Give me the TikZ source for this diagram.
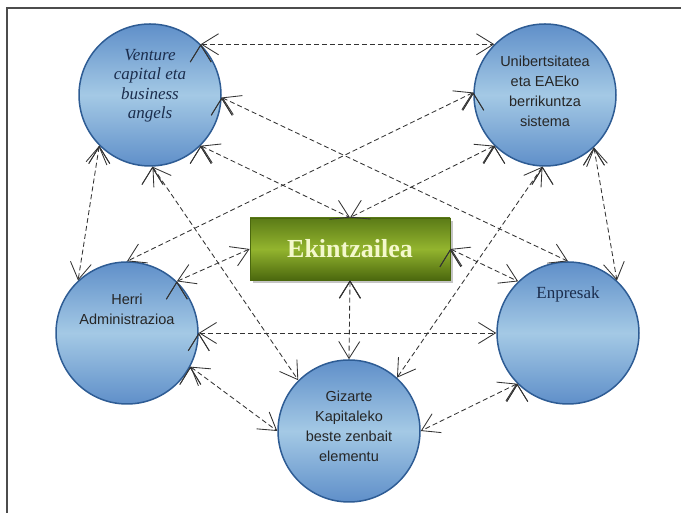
\documentclass[tikz,border=0pt]{standalone}
\usepackage{fontspec}
\setmainfont{Liberation Serif}
\setsansfont{Liberation Sans}
\usepackage{tikz}
\usetikzlibrary{arrows.meta,shadows}

\definecolor{bubbletop}{HTML}{5F8FC9}
\definecolor{bubblemid}{HTML}{A4C9E5}
\definecolor{bubbleline}{HTML}{2E5C94}
\definecolor{boxtop}{HTML}{5B7B17}
\definecolor{boxmid}{HTML}{93B42E}
\definecolor{boxbot}{HTML}{4B680E}
\definecolor{boxtext}{HTML}{F4F8CC}
\definecolor{navy}{HTML}{1B2D4D}
\definecolor{linkgray}{HTML}{333333}

\begin{document}
\begin{tikzpicture}[x=1pt,y=1pt,<->,>={Straight Barb[length=17pt,width=21pt]},semithick,
  bubble/.style={circle,draw=bubbleline,line width=1.5pt,minimum size=142pt,inner sep=0pt,
    top color=bubbletop,bottom color=bubbletop,middle color=bubblemid},
  box/.style={rectangle,draw=boxbot,line width=0.8pt,minimum width=200pt,minimum height=62pt,
    top color=boxtop,bottom color=boxbot,middle color=boxmid,
    drop shadow={shadow xshift=3pt,shadow yshift=-3pt,fill=black!45},
    text=boxtext,font=\fontsize{26}{30}\selectfont\bfseries},
  serif/.style={align=center,text=navy,font=\fontsize{17}{19.5}\selectfont},
  sans/.style={align=center,text=black!85,font=\sffamily\fontsize{14.5}{20}\selectfont},
  link/.style={draw=linkgray,dash pattern=on 5pt off 3pt,line width=0.85pt}]
\useasboundingbox (0,0) rectangle (681,513);
\draw[-,black!70,line width=1.2pt] (7,0) -- (7,505) -- (681,505);

% nodes
\node[bubble] (vc) at (150,418) {};
\node[bubble] (un) [right of=vc,node distance=395pt] {};
\node[bubble] (ha) at (127,180) {};
\node[bubble] (en) [right of=ha,node distance=441pt] {};
\node[bubble] (gk) at (349,82) {};
\node[box] (ek) at (350,264) {Ekintzailea};

% texts
\node[serif,font=\fontsize{17}{19.5}\selectfont\itshape] (vc-t) at ([yshift=9pt]vc.center) {Venture\\capital eta\\business\\angels};
\node[sans] (un-t) at ([yshift=4pt]un.center) {Unibertsitatea\\eta EAEko\\berrikuntza\\sistema};
\node[sans] (ha-t) at ([yshift=24pt]ha.center) {Herri\\Administrazioa};
\node[serif] (en-t) at ([yshift=39pt]en.center) {Enpresak};
\node[sans] (gk-t) at ([yshift=5pt]gk.center) {Gizarte\\Kapitaleko\\beste zenbait\\elementu};

% links
\path[link] (vc.45) edge (un.135);
\path[link] (vc.-2) edge (en.90);
\path[link] (vc.-45) edge (ek.north);
\path[link] (vc.225) edge (ha.133);
\path[link] (vc.-88) edge (gk.135);
\path[link] (un.178) edge (ha.90);
\path[link] (un.225) edge (ek.north);
\path[link] (un.-92) edge (gk.48);
\path[link] (un.-47) edge (en.47);
\path[link] (ha.46) edge (ek.west);
\path[link] (ha.east) edge (en.west);
\path[link] (ha.-28) edge (gk.west);
\path[link] (ek.south) edge (gk.north);
\path[link] (ek.east) edge (en.134);
\path[link] (en.225) edge (gk.east);
\end{tikzpicture}
\end{document}
